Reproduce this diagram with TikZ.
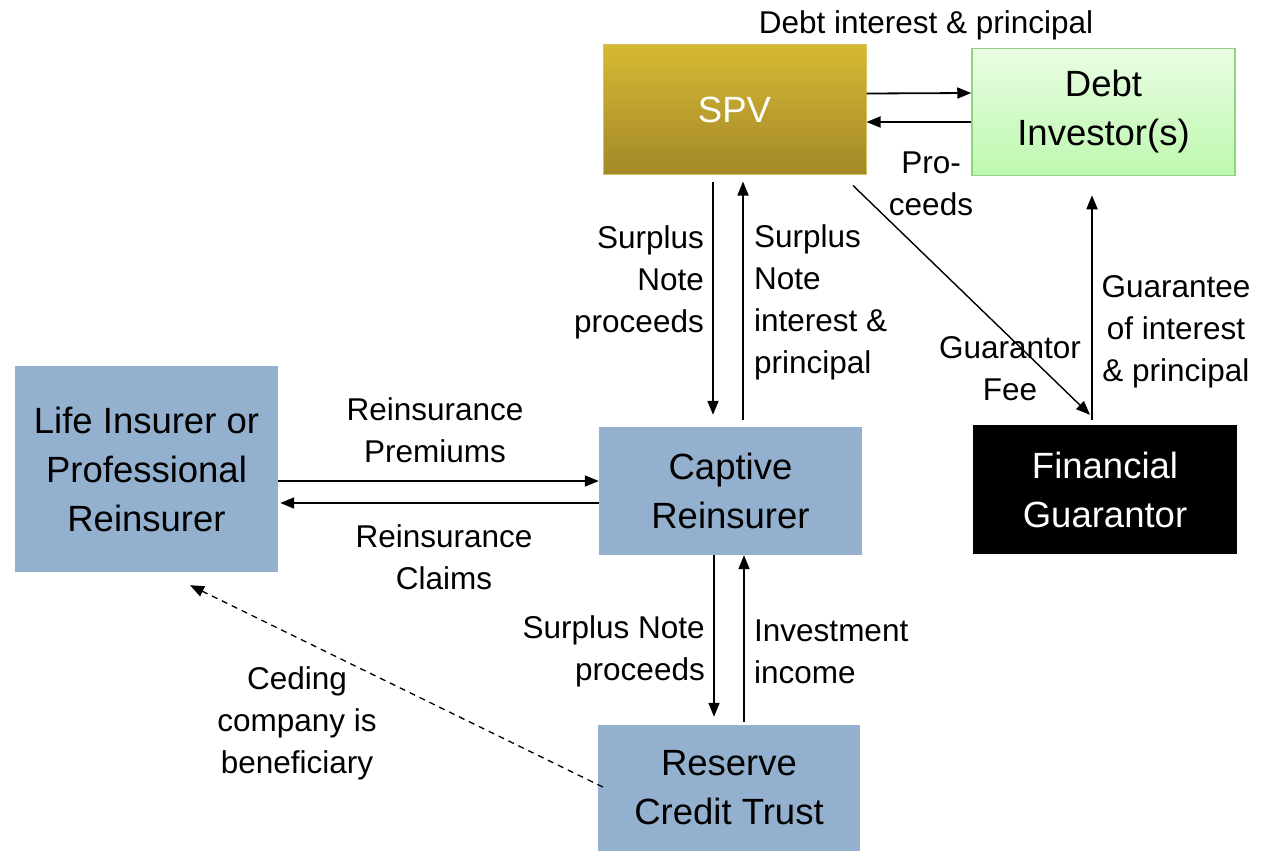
\documentclass[tikz,border=0pt]{standalone}
\usepackage{fontspec}
\setmainfont{Liberation Sans}
\usetikzlibrary{arrows.meta}
\definecolor{boxblue}{HTML}{93B1CF}
\definecolor{spvtop}{HTML}{D6B932}
\definecolor{spvbot}{HTML}{A3882A}
\definecolor{spvedge}{HTML}{D9C25A}
\definecolor{invtop}{HTML}{EAFDE4}
\definecolor{invbot}{HTML}{BDF8AE}
\definecolor{invedge}{HTML}{8FD47F}
\begin{document}
\begin{tikzpicture}[x=1pt,y=-1pt,
  box/.style={rectangle, inner sep=0pt, minimum width=263pt, minimum height=129pt,
    align=center, font=\fontsize{36.5}{49}\selectfont},
  lbl/.style={font=\fontsize{31.5}{42}\selectfont, inner sep=0pt},
  flow/.style={line width=1.8pt, -{Triangle[length=14pt,width=11pt]}},
  ceding/.style={line width=1.3pt, dash pattern=on 6pt off 5pt, -{Triangle[length=14pt,width=11pt]}},
]
\useasboundingbox (0,0) rectangle (1266,851);

% entities
\node[box, fill=boxblue, minimum height=206pt] (life) at (146.5,469) {Life Insurer or\\Professional\\Reinsurer};
\node[box, fill=boxblue, minimum height=128pt] (cap) at (730.5,491) {Captive\\Reinsurer};
\node[box, fill=black, text=white, minimum width=264pt] (fg) at (1105,489.5) {Financial\\Guarantor};
\node[box, fill=boxblue, minimum width=262pt, minimum height=126pt] (rct) at (729,788) {Reserve\\Credit Trust};
\node[box, draw=spvedge, line width=1pt, top color=spvtop, bottom color=spvbot, text=white] (spv) at (734.5,109.5) {SPV};
\node[box, draw=invedge, line width=1.5pt, top color=invtop, bottom color=invbot, minimum height=127pt] (inv) at (1103.5,112) {Debt\\Investor(s)};

% flow labels
\node[lbl] (ldebt) at (926,25) {Debt interest \& principal};
\node[lbl, align=center] (lpro) at (931,184) {Pro-\\ceeds};
\node[lbl, align=right, anchor=east] (lsn1) at (704,282) {Surplus\\Note\\proceeds};
\node[lbl, align=left, anchor=west] (lsni) at (754,302.5) {Surplus\\Note\\interest \&\\principal};
\node[lbl, align=center] (lfee) at (1010,369) {Guarantor\\Fee};
\node[lbl, align=center] (lgua) at (1176,331.5) {Guarantee\\of interest\\\& principal};
\node[lbl, align=center] (lprem) at (435,430) {Reinsurance\\Premiums};
\node[lbl, align=center] (lclm) at (444,557.5) {Reinsurance\\Claims};
\node[lbl, align=right, anchor=east] (lsn2) at (705,651.5) {Surplus Note\\proceeds};
\node[lbl, align=left, anchor=west] (linv) at (754,651.5) {Investment\\income};
\node[lbl, align=center] (lced) at (297,723.5) {Ceding\\company is\\beneficiary};

% SPV and debt investors
\draw[flow] ([yshift=16pt]spv.east) -- ([yshift=19pt]inv.west);
\draw[flow] ([yshift=-10pt]inv.west) -- ([yshift=-12.5pt]spv.east);

% SPV and captive reinsurer
\draw[flow] ([xshift=-21.5pt,yshift=-7pt]spv.south) -- ([xshift=-17.5pt,yshift=12pt]cap.north);
\draw[flow] ([xshift=12.5pt,yshift=7pt]cap.north) -- ([xshift=8.5pt,yshift=-7pt]spv.south);

% guarantor
\draw[line width=1.4pt, -{Triangle[length=14pt,width=11pt]}] ([xshift=118.5pt,yshift=-11pt]spv.south) -- ([xshift=-15pt,yshift=10pt]fg.north);
\draw[flow] ([xshift=-13pt,yshift=5pt]fg.north) -- ([xshift=-11.5pt,yshift=-19pt]inv.south);

% reinsurance
\draw[flow] ([yshift=-12pt]life.east) -- ([yshift=10pt]cap.west);
\draw[flow] ([yshift=-12pt]cap.west) -- ([xshift=2pt,yshift=-34pt]life.east);

% captive reinsurer and trust
\draw[flow] ([xshift=-16.5pt]cap.south) -- ([xshift=-15pt,yshift=8pt]rct.north);
\draw[flow] ([xshift=15pt,yshift=3pt]rct.north) -- ([xshift=13.5pt]cap.south);

% beneficiary
\draw[ceding] ([xshift=5pt,yshift=1pt]rct.west) -- ([xshift=43.5pt,yshift=-13pt]life.south);
\end{tikzpicture}
\end{document}
